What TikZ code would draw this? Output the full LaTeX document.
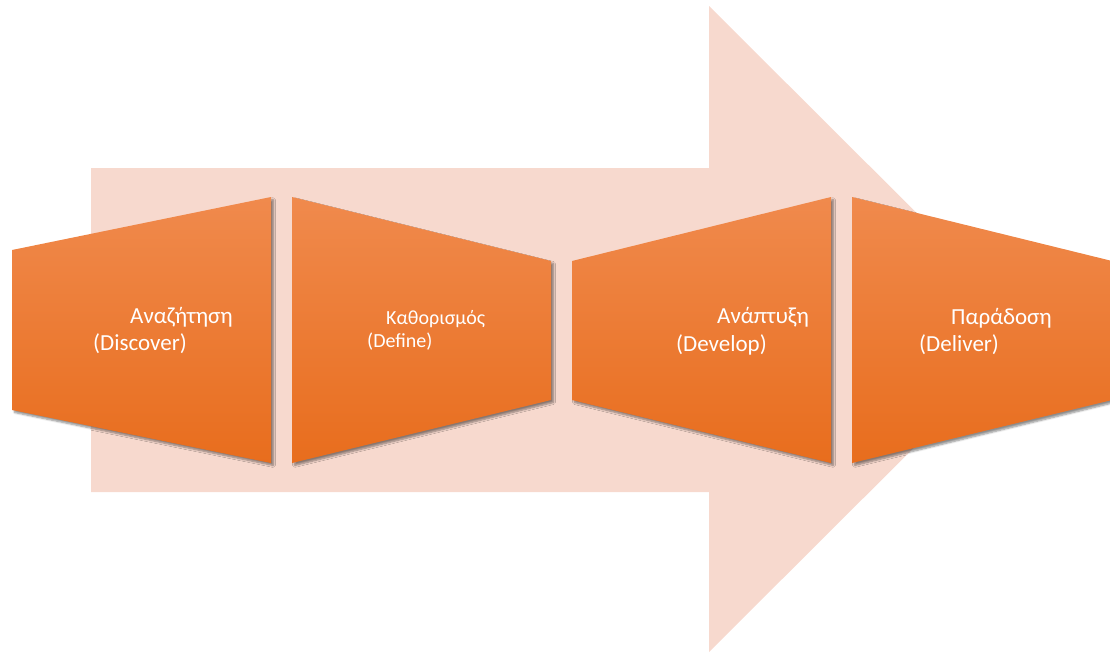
\documentclass[tikz,border=0pt]{standalone}
\usepackage{fontspec}
\setmainfont{Carlito}
\usetikzlibrary{shadows.blur}
\definecolor{arrowpink}{RGB}{247,217,206}
\definecolor{stagetop}{RGB}{240,138,77}
\definecolor{stagemid}{RGB}{244,127,48}
\definecolor{stagebot}{RGB}{232,109,29}
\tikzset{
  stage/.style={top color=stagetop, middle color=stagemid, bottom color=stagebot,
    blur shadow={shadow xshift=2.5pt, shadow yshift=-2.5pt, shadow blur steps=6,
      shadow blur extra rounding=0.5pt, shadow opacity=45}},
  lbl/.style={text=white, inner sep=0pt, anchor=base west, font=\fontsize{23}{27}\selectfont},
  lblsmall/.style={lbl, font=\fontsize{20}{24}\selectfont}
}
\begin{document}
\begin{tikzpicture}[x=1pt,y=-1pt]
\useasboundingbox (0,0) rectangle (1110,654);
% big background arrow
\fill[arrowpink] (91,168) -- (709,168) -- (709,6) -- (1033,329)
  -- (709,652) -- (709,492) -- (91,492) -- cycle;
% four stages
\path[stage] (12,250) -- (271,197) -- (271,463) -- (12,410) -- cycle;
\path[stage] (292,197) -- (551,261) -- (551,400) -- (292,463) -- cycle;
\path[stage] (572,261) -- (831,197) -- (831,463) -- (572,400) -- cycle;
\path[stage] (852,197) -- (1112,261) -- (1112,400) -- (852,463) -- cycle;
% labels
\node[lbl] (d1a) at (130,323) {Αναζήτηση};
\node[lbl] (d1b) at (93,350) {(Discover)};
\node[lblsmall] (d2a) at (386,324) {Καθορισμός};
\node[lblsmall] (d2b) at (367,347) {(Define)};
\node[lbl] (d3a) at (717,323) {Ανάπτυξη};
\node[lbl] (d3b) at (676,351) {(Develop)};
\node[lbl] (d4a) at (951,324) {Παράδοση};
\node[lbl] (d4b) at (919,351) {(Deliver)};
\end{tikzpicture}
\end{document}
